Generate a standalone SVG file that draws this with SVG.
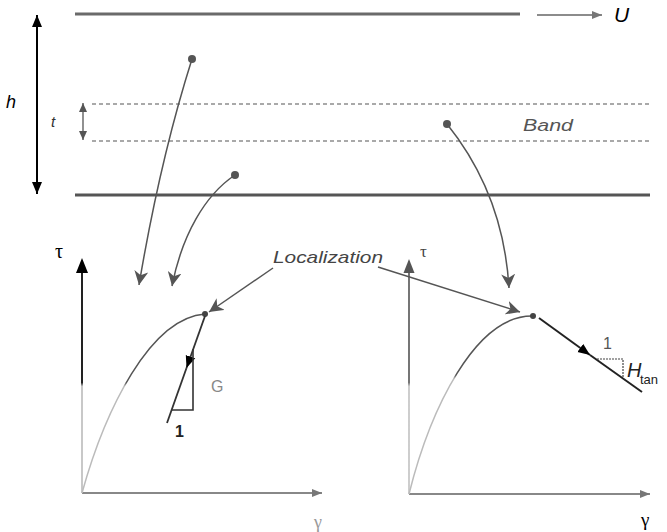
<svg xmlns="http://www.w3.org/2000/svg" width="667" height="532" viewBox="0 0 667 532">
<style>
.it{font-family:"Liberation Sans",Arial,sans-serif;font-style:italic}
.sf{font-family:"Liberation Serif","Times New Roman",serif}
.sa{font-family:"Liberation Sans",Arial,sans-serif}
.conn{fill:none;stroke:#555;stroke-width:1.5}
.dash{stroke:#555;stroke-width:1.2;stroke-dasharray:4 3}
</style>
<defs>
<marker id="ag" markerUnits="userSpaceOnUse" markerWidth="16" markerHeight="14" refX="14" refY="7" orient="auto">
<path d="M0,0 L14,7 L0,14 L4,7 z" fill="#555"/>
</marker>
<marker id="ab" markerUnits="userSpaceOnUse" markerWidth="14" markerHeight="12" refX="12" refY="6" orient="auto">
<path d="M0,1 L12,6 L0,11 z" fill="#000"/>
</marker>
<marker id="abs" markerUnits="userSpaceOnUse" markerWidth="14" markerHeight="12" refX="0" refY="6" orient="auto">
<path d="M12,1 L0,6 L12,11 z" fill="#000"/>
</marker>
<marker id="ats" markerUnits="userSpaceOnUse" markerWidth="10" markerHeight="10" refX="9" refY="4" orient="auto">
<path d="M0,0 L9,4 L0,8 z" fill="#555"/>
</marker>
<marker id="atss" markerUnits="userSpaceOnUse" markerWidth="10" markerHeight="10" refX="0" refY="4" orient="auto">
<path d="M9,0 L0,4 L9,8 z" fill="#555"/>
</marker>
<marker id="agr" markerUnits="userSpaceOnUse" markerWidth="12" markerHeight="10" refX="10" refY="5" orient="auto">
<path d="M0,1 L10,5 L0,9 z" fill="#777"/>
</marker>
<linearGradient id="fadeL" gradientUnits="userSpaceOnUse" x1="0" y1="250" x2="0" y2="500">
<stop offset="0.53" stop-color="#222"/>
<stop offset="0.545" stop-color="#c8c8c8"/>
</linearGradient>
<linearGradient id="fadeLc" gradientUnits="userSpaceOnUse" x1="0" y1="250" x2="0" y2="500">
<stop offset="0.53" stop-color="#555"/>
<stop offset="0.545" stop-color="#bbb"/>
</linearGradient>
<linearGradient id="fadeR" gradientUnits="userSpaceOnUse" x1="0" y1="250" x2="0" y2="500">
<stop offset="0.53" stop-color="#666"/>
<stop offset="0.545" stop-color="#c8c8c8"/>
</linearGradient>
<linearGradient id="fadeRc" gradientUnits="userSpaceOnUse" x1="0" y1="250" x2="0" y2="500">
<stop offset="0.5" stop-color="#555"/>
<stop offset="0.515" stop-color="#bbb"/>
</linearGradient>
</defs>

<g id="plates">
<line x1="75" y1="14" x2="520" y2="14" stroke="#6a6a6a" stroke-width="3"/>
<line x1="75" y1="195" x2="650" y2="195" stroke="#555" stroke-width="3"/>
<line x1="92" y1="104" x2="650" y2="104" class="dash"/>
<line x1="92" y1="141" x2="650" y2="141" class="dash"/>
</g>

<g id="velocity">
<line x1="537" y1="15" x2="602" y2="15" stroke="#666" stroke-width="1.5" marker-end="url(#agr)"/>
<text x="614" y="22" class="it" font-size="21" fill="#000">U</text>
</g>

<g id="height">
<line x1="37" y1="15" x2="37" y2="194" stroke="#000" stroke-width="2" marker-start="url(#abs)" marker-end="url(#ab)"/>
<text x="6" y="108" class="it" font-size="18" fill="#000">h</text>
</g>

<g id="thickness">
<line x1="83" y1="103" x2="83" y2="140" stroke="#555" stroke-width="1.3" marker-start="url(#atss)" marker-end="url(#ats)"/>
<text x="51" y="127" class="it" font-size="15" fill="#333">t</text>
<text x="523" y="131" class="it" font-size="16" fill="#555" textLength="50" lengthAdjust="spacingAndGlyphs">Band</text>
</g>

<g id="points">
<circle cx="192" cy="59" r="4" fill="#555"/>
<circle cx="235" cy="175" r="4" fill="#555"/>
<circle cx="447" cy="124" r="4" fill="#555"/>
</g>

<g id="left-plot">
<line x1="82" y1="493" x2="82" y2="272" stroke="url(#fadeL)" stroke-width="2"/>
<path d="M76,273 L82,258 L88,273 z" fill="#000"/>
<text x="55" y="258" class="sf" font-size="20" fill="#000">τ</text>
<line x1="82" y1="493" x2="322" y2="493" stroke="#888" stroke-width="2" marker-end="url(#agr)"/>
<text x="314" y="528" class="sf" font-size="18" fill="#999">γ</text>
<path d="M82,493 C105,410 150,318 205,314" fill="none" stroke="url(#fadeLc)" stroke-width="1.5"/>
<circle cx="205" cy="314" r="3" fill="#444"/>
<line x1="205" y1="316" x2="186.5" y2="368" stroke="#333" stroke-width="1.8" marker-end="url(#ab)"/>
<line x1="186.5" y1="368" x2="167" y2="423" stroke="#333" stroke-width="1.8"/>
<polyline points="193,349 193,410 172,410" fill="none" stroke="#333" stroke-width="1.6"/>
<text x="211" y="392" class="sa" font-size="16" fill="#888">G</text>
<text x="175" y="437" class="sa" font-size="16" font-weight="bold" fill="#222">1</text>
</g>

<g id="right-plot">
<line x1="409" y1="494" x2="409" y2="272" stroke="url(#fadeR)" stroke-width="1.8"/>
<path d="M403.5,273 L409,259 L414.5,273 z" fill="#555"/>
<text x="420" y="257" class="sf" font-size="17" fill="#444">τ</text>
<line x1="409" y1="494" x2="650" y2="494" stroke="#888" stroke-width="2" marker-end="url(#agr)"/>
<text x="641" y="526" class="sf" font-size="19" fill="#000">γ</text>
<path d="M409,494 C430,410 475,315 533,316" fill="none" stroke="url(#fadeRc)" stroke-width="1.5"/>
<circle cx="533" cy="316" r="3" fill="#444"/>
<line x1="539" y1="318" x2="590" y2="355" stroke="#222" stroke-width="2" marker-end="url(#ab)"/>
<line x1="590" y1="355" x2="642" y2="392" stroke="#222" stroke-width="2"/>
<polyline points="597,359 623,359 623,377" fill="none" stroke="#444" stroke-width="1.2" stroke-dasharray="2 1"/>
<text x="603" y="349" class="sa" font-size="16" fill="#555">1</text>
<text x="627" y="377" class="it" font-size="20" fill="#222">H</text>
<text x="640" y="384" class="sa" font-size="13" fill="#222">tan</text>
</g>

<g id="localization">
<text x="273" y="263" class="it" font-size="17" fill="#444" textLength="110" lengthAdjust="spacingAndGlyphs">Localization</text>
</g>

<g id="connectors">
<path d="M192,59 Q160,160 139,285" class="conn" marker-end="url(#ag)"/>
<path d="M235,175 C205,195 182,235 172,286" class="conn" marker-end="url(#ag)"/>
<path d="M447,124 C480,165 505,220 509,288" class="conn" marker-end="url(#ag)"/>
<line x1="273" y1="268" x2="209" y2="312" class="conn" marker-end="url(#ag)"/>
<line x1="378" y1="267" x2="520" y2="312" class="conn" marker-end="url(#ag)"/>
</g>
</svg>
